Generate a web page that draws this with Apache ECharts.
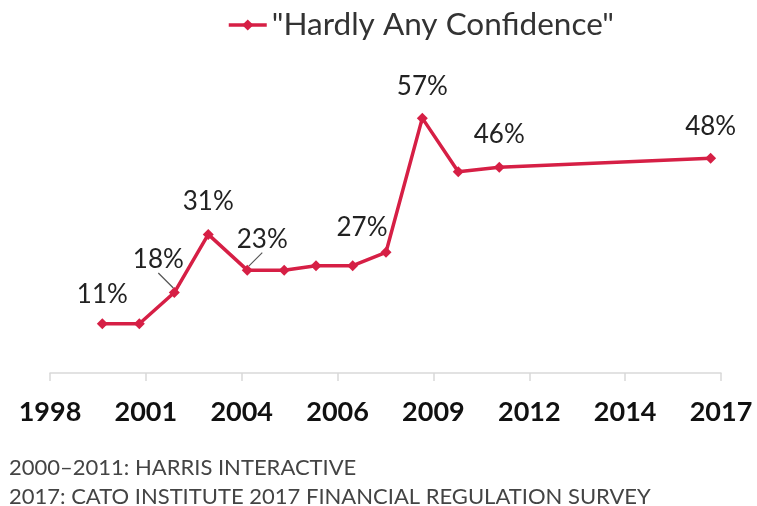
<!DOCTYPE html>
<html><head><meta charset="utf-8">
<script src="https://cdn.jsdelivr.net/npm/echarts@6/dist/echarts.min.js"></script>
<style>html,body{margin:0;padding:0;background:#fff}#c{width:757px;height:506px}</style>
</head><body><div id="c"></div>
<script>
// Data
const tickLabels = ['1998','2001','2004','2006','2009','2012','2014','2017'];
const surveyYears = ['2000','2001','2002','2003','2004','2005','2006','2007','2008','2009','2010','2011','2017'];
// position of each survey on the (evenly spaced) axis, in tick units
const xPos = [0.546, 0.932, 1.297, 1.651, 2.058, 2.443, 2.775, 3.158, 3.505, 3.884, 4.259, 4.687, 6.892];
const values = [11, 11, 18, 31, 23, 23, 24, 24, 27, 57, 45, 46, 48];
const seriesName = '"Hardly Any Confidence"';
const footnotes = ['2000\u20132011: HARRIS INTERACTIVE', '2017: CATO INSTITUTE 2017 FINANCIAL REGULATION SURVEY'];
// which points get a value label, and how the label is shifted
const labelShift = {0:[0,3], 2:[-16,0], 3:[0,0], 4:[15,2], 8:[-24,8], 9:[0,1], 11:[0,0], 12:[0,1]};
const leaderIdx = [2, 4];

const RED = '#d61f45';
const data = xPos.map((x, i) => {
  const item = {value: [x, values[i]], name: surveyYears[i]};
  if (labelShift[i]) {
    item.label = {show: true};
    if (leaderIdx.indexOf(i) >= 0) item.labelLine = {show: true};
  }
  return item;
});

const chart = echarts.init(document.getElementById('c'));
chart.setOption({
  animation: false,
  textStyle: {fontFamily: 'Lato'},
  legend: {
    top: 4, left: 222, itemWidth: 38, itemHeight: 14, itemGap: 4,
    textStyle: {fontSize: 31.5, color: '#333', fontFamily: 'Lato'},
    itemStyle: {color: RED},
    lineStyle: {color: RED, width: 3.5},
    data: [{name: seriesName}]
  },
  title: [
    {text: footnotes[0], left: 4, top: 452, textStyle: {fontSize: 22, fontWeight: 'normal', color: '#444', fontFamily: 'Lato'}},
    {text: footnotes[1], left: 4, top: 481, textStyle: {fontSize: 22, fontWeight: 'normal', color: '#444', fontFamily: 'Lato'}}
  ],
  grid: {left: 50, right: 36, top: 60, bottom: 133},
  xAxis: {
    type: 'value', min: 0, max: 7, interval: 1,
    splitLine: {show: false},
    axisLine: {lineStyle: {color: '#d9d9d9', width: 1.5}},
    axisTick: {show: true, length: 8, lineStyle: {color: '#d9d9d9', width: 1.5}},
    axisLabel: {
      margin: 26, fontSize: 27, fontWeight: 'bold', color: '#111', fontFamily: 'Lato',
      formatter: v => tickLabels[Math.round(v)] || ''
    }
  },
  yAxis: {type: 'value', min: 0, max: 70, show: false, splitLine: {show: false}},
  series: [{
    name: seriesName, type: 'line', data: data,
    symbol: 'diamond', symbolSize: 11,
    lineStyle: {color: RED, width: 3.5},
    itemStyle: {color: RED},
    label: {show: false, position: 'top', distance: 14, fontSize: 26, color: '#222', fontFamily: 'Lato',
      formatter: p => p.value[1] + '%'},
    labelLine: {show: false, lineStyle: {color: '#555', width: 1.2}},
    labelLayout: function (p) {
      const s = labelShift[p.dataIndex];
      if (!s) return {};
      return {dx: s[0], dy: s[1]};
    }
  }]
});
</script></body></html>
